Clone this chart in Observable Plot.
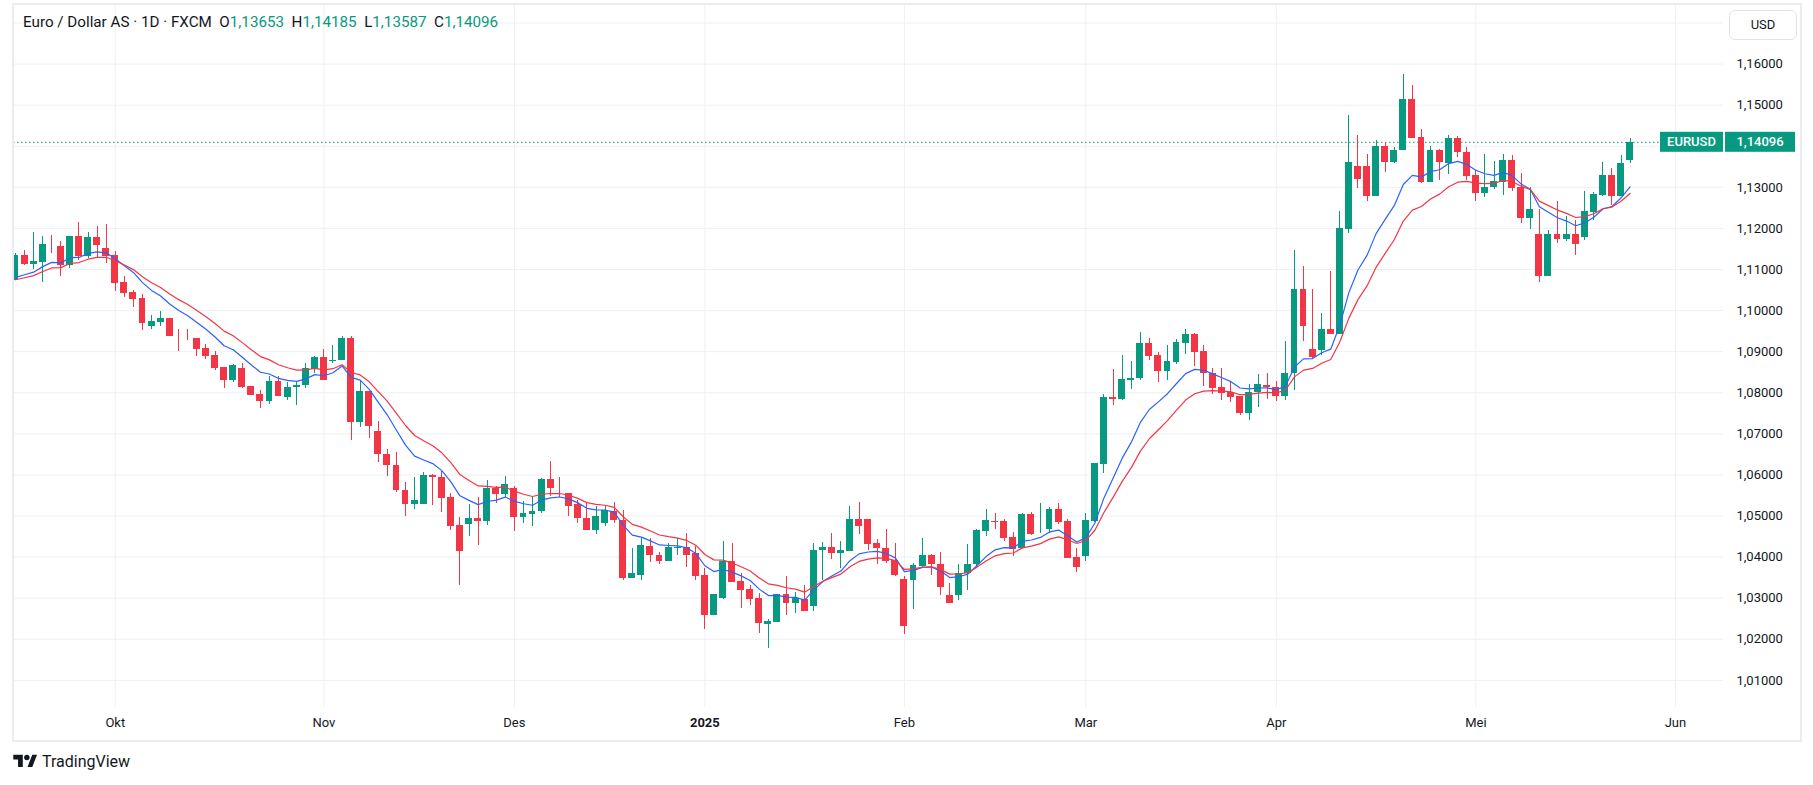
<!DOCTYPE html>
<html>
<head>
<meta charset="utf-8">
<script src="https://cdn.jsdelivr.net/npm/d3@7"></script>
<script src="https://cdn.jsdelivr.net/npm/@observablehq/plot@0.6"></script>
<style>
  html, body { margin: 0; padding: 0; background: #ffffff; }
  body { font-family: Roboto, "Noto Sans", sans-serif; color: #131722; }
  #wrap { position: relative; width: 1813px; height: 785px; overflow: hidden; }
  #chart { position: absolute; left: 0; top: 0; }
  #frame { position: absolute; left: 12px; top: 3px; width: 1786px; height: 735px; border: 2px solid #e9ecf1; pointer-events: none; }
  #title { position: absolute; left: 23px; top: 13px; font-size: 15.2px; white-space: pre; color: #131722; }
  #title .v { color: #089981; }
  #usd { position: absolute; left: 1729px; top: 10px; width: 66px; height: 28px; border: 1px solid #e0e3eb; border-radius: 6px; font-size: 13px; line-height: 28px; text-align: center; color: #131722; background: #fff; }
  #logo { position: absolute; left: 13px; top: 752px; display: flex; align-items: center; gap: 4px; font-size: 16px; font-weight: 400; color: #131722; }
</style>
</head>
<body>
<div id="wrap">
  <div id="chart"></div>
  <div id="frame"></div>
  <div id="title"></div>
  <div id="usd">USD</div>
  <div id="logo">
    <svg width="25" height="19" viewBox="0 0 36 28"><path d="M14 22H7V11H0V4h14v18z" fill="#131722"/><circle cx="20" cy="8" r="4" fill="#131722"/><path d="M28 4h7l-7 18h-7l7-18z" fill="#131722"/></svg>
    <span>TradingView</span>
  </div>
</div>
<script>
// ---- Data (EURUSD daily, FXCM), 16 Sep 2024 .. 26 May 2025 ----
const symbol = "EURUSD";
const titleText = "Euro / Dollar AS · 1D · FXCM";

const open = [
  1.1073,1.1134,1.1113,1.1118,1.1161,1.1156,1.1110,1.1180,1.1132,1.1178,
  1.1151,1.1134,1.1068,1.1044,1.1029,1.0962,1.0972,1.0981,1.0939,1.0939,
  1.0932,1.0908,1.0891,1.0862,1.0830,1.0858,1.0815,1.0796,1.0779,1.0828,
  1.0789,1.0812,1.0817,1.0856,1.0885,1.0875,1.0878,1.0931,1.0727,1.0804,
  1.0706,1.0650,1.0623,1.0563,1.0528,1.0528,1.0599,1.0594,1.0544,1.0476,
  1.0479,1.0494,1.0486,1.0566,1.0552,1.0566,1.0496,1.0503,1.0510,1.0588,
  1.0555,1.0555,1.0527,1.0494,1.0466,1.0483,1.0512,1.0490,1.0349,1.0356,
  1.0427,1.0405,1.0390,1.0420,1.0424,1.0408,1.0356,1.0259,1.0300,1.0390,
  1.0340,1.0320,1.0300,1.0236,1.0242,1.0308,1.0287,1.0298,1.0279,1.0415,
  1.0424,1.0409,1.0413,1.0492,1.0492,1.0432,1.0422,1.0391,1.0345,1.0343,
  1.0377,1.0403,1.0383,1.0307,1.0307,1.0359,1.0381,1.0462,1.0487,1.0487,
  1.0447,1.0421,1.0503,1.0471,1.0468,1.0515,1.0486,1.0398,1.0402,1.0487,
  1.0625,1.0789,1.0784,1.0830,1.0834,1.0919,1.0890,1.0852,1.0874,1.0920,
  1.0943,1.0900,1.0846,1.0812,1.0800,1.0791,1.0750,1.0800,1.0817,1.0813,
  1.0791,1.0847,1.1051,1.0905,1.0904,1.0954,1.0941,1.1197,1.1350,1.1350,
  1.1277,1.1399,1.1360,1.1389,1.1513,1.1421,1.1311,1.1389,1.1359,1.1418,
  1.1386,1.1328,1.1285,1.1299,1.1312,1.1366,1.1299,1.1225,1.1185,1.1082,
  1.1185,1.1174,1.1185,1.1179,1.1239,1.1279,1.1328,1.1278,1.13653
];
const high = [
  1.1140,1.1146,1.1190,1.1180,1.1183,1.1168,1.1180,1.1214,1.1190,1.1205,
  1.1209,1.1144,1.1083,1.1049,1.1039,1.0988,1.0998,1.0981,1.0954,1.0954,
  1.0932,1.0918,1.0900,1.0862,1.0870,1.0872,1.0815,1.0806,1.0840,1.0840,
  1.0826,1.0826,1.0872,1.0889,1.0906,1.0916,1.0938,1.0938,1.0827,1.0804,
  1.0729,1.0662,1.0655,1.0582,1.0595,1.0606,1.0602,1.0608,1.0555,1.0497,
  1.0529,1.0546,1.0587,1.0573,1.0597,1.0571,1.0535,1.0544,1.0591,1.0632,
  1.0595,1.0555,1.0539,1.0533,1.0524,1.0526,1.0534,1.0514,1.0422,1.0448,
  1.0446,1.0411,1.0432,1.0445,1.0458,1.0425,1.0373,1.0310,1.0437,1.0434,
  1.0359,1.0330,1.0312,1.0249,1.0310,1.0354,1.0315,1.0331,1.0433,1.0435,
  1.0458,1.0439,1.0522,1.0534,1.0492,1.0443,1.0468,1.0434,1.0353,1.0385,
  1.0445,1.0406,1.0412,1.0337,1.0383,1.0430,1.0468,1.0515,1.0507,1.0491,
  1.0461,1.0505,1.0509,1.0530,1.0520,1.0530,1.0492,1.0420,1.0505,1.0629,
  1.0797,1.0856,1.0890,1.0875,1.0947,1.0933,1.0899,1.0914,1.0929,1.0955,
  1.0945,1.0916,1.0860,1.0858,1.0828,1.0791,1.0820,1.0844,1.0848,1.0828,
  1.0924,1.1146,1.1107,1.1051,1.0992,1.1096,1.1241,1.1474,1.1426,1.1379,
  1.1414,1.1410,1.1396,1.1574,1.1547,1.1440,1.1399,1.1391,1.1426,1.1423,
  1.1398,1.1340,1.1381,1.1364,1.1381,1.1378,1.1334,1.1299,1.1245,1.1195,
  1.1266,1.1229,1.1219,1.1290,1.1287,1.1361,1.1345,1.1377,1.14185
];
const low = [
  1.1073,1.1110,1.1099,1.1069,1.1138,1.1084,1.1103,1.1122,1.1128,1.1126,
  1.1115,1.1047,1.1033,1.1008,1.0952,1.0955,1.0962,1.0938,1.0901,1.0927,
  1.0889,1.0881,1.0854,1.0810,1.0826,1.0810,1.0793,1.0762,1.0772,1.0792,
  1.0781,1.0769,1.0811,1.0846,1.0831,1.0872,1.0878,1.0683,1.0715,1.0688,
  1.0630,1.0596,1.0557,1.0499,1.0517,1.0528,1.0525,1.0508,1.0464,1.0332,
  1.0450,1.0428,1.0477,1.0531,1.0546,1.0462,1.0481,1.0474,1.0507,1.0547,
  1.0546,1.0500,1.0481,1.0464,1.0454,1.0475,1.0482,1.0344,1.0349,1.0344,
  1.0386,1.0382,1.0390,1.0405,1.0374,1.0344,1.0223,1.0257,1.0297,1.0338,
  1.0274,1.0283,1.0213,1.0177,1.0241,1.0259,1.0263,1.0267,1.0267,1.0344,
  1.0393,1.0373,1.0413,1.0454,1.0415,1.0383,1.0385,1.0353,1.0211,1.0272,
  1.0373,1.0355,1.0306,1.0286,1.0294,1.0319,1.0375,1.0449,1.0468,1.0438,
  1.0402,1.0421,1.0452,1.0458,1.0458,1.0479,1.0397,1.0363,1.0389,1.0485,
  1.0604,1.0768,1.0781,1.0807,1.0831,1.0878,1.0825,1.0831,1.0870,1.0894,
  1.0864,1.0816,1.0797,1.0781,1.0777,1.0744,1.0732,1.0765,1.0783,1.0779,
  1.0781,1.0805,1.0924,1.0880,1.0890,1.0941,1.0941,1.1188,1.1298,1.1266,
  1.1277,1.1336,1.1358,1.1389,1.1418,1.1310,1.1311,1.1316,1.1331,1.1373,
  1.1316,1.1266,1.1275,1.1294,1.1280,1.1291,1.1213,1.1198,1.1068,1.1082,
  1.1164,1.1169,1.1133,1.1171,1.1219,1.1278,1.1255,1.1278,1.13587
];
const close = [
  1.1134,1.1112,1.1119,1.1161,1.1159,1.1110,1.1180,1.1132,1.1178,1.1158,
  1.1132,1.1067,1.1042,1.1028,1.0969,1.0973,1.0981,1.0938,1.0937,1.0937,
  1.0906,1.0888,1.0860,1.0830,1.0866,1.0813,1.0793,1.0779,1.0828,1.0792,
  1.0812,1.0818,1.0858,1.0885,1.0831,1.0878,1.0931,1.0727,1.0804,1.0718,
  1.0649,1.0623,1.0561,1.0528,1.0538,1.0599,1.0593,1.0542,1.0474,1.0413,
  1.0494,1.0486,1.0566,1.0552,1.0576,1.0496,1.0505,1.0512,1.0588,1.0567,
  1.0554,1.0524,1.0493,1.0466,1.0500,1.0513,1.0488,1.0349,1.0359,1.0429,
  1.0403,1.0390,1.0423,1.0423,1.0405,1.0354,1.0259,1.0308,1.0390,1.0338,
  1.0318,1.0298,1.0238,1.0244,1.0308,1.0287,1.0300,1.0267,1.0417,1.0424,
  1.0408,1.0415,1.0492,1.0474,1.0431,1.0420,1.0389,1.0355,1.0231,1.0379,
  1.0403,1.0381,1.0326,1.0287,1.0361,1.0383,1.0464,1.0488,1.0484,1.0445,
  1.0419,1.0503,1.0454,1.0473,1.0515,1.0484,1.0397,1.0375,1.0488,1.0627,
  1.0789,1.0784,1.0833,1.0835,1.0919,1.0888,1.0852,1.0877,1.0922,1.0943,
  1.0898,1.0846,1.0811,1.0799,1.0789,1.0750,1.0800,1.0821,1.0812,1.0791,
  1.0848,1.1051,1.0962,1.0886,1.0954,1.0941,1.1199,1.1360,1.1319,1.1277,
  1.1399,1.1360,1.1389,1.1513,1.1418,1.1311,1.1389,1.1361,1.1418,1.1385,
  1.1326,1.1285,1.1299,1.1313,1.1366,1.1297,1.1225,1.1245,1.1082,1.1185,
  1.1174,1.1185,1.1161,1.1241,1.1282,1.1328,1.1278,1.1357,1.14096
];

// EMA indicators (periods) and their values at the first visible bar
const emaPeriods = [9, 14];
const emaFirst = [1.1081, 1.1075];
const emaColors = ["#2962FF", "#F23645"];

// time axis: bar index of the first trading day of each month, and its label
const monthIdx = [12, 35, 56, 77, 99, 119, 140, 162, 184];
const monthLabels = ["Okt", "Nov", "Des", "2025", "Feb", "Mar", "Apr", "Mei", "Jun"];
const boldLabels = ["2025"];

// price axis
const gridTicks = [1.01, 1.02, 1.03, 1.04, 1.05, 1.06, 1.07, 1.08, 1.09, 1.10, 1.11, 1.12, 1.13, 1.14, 1.15, 1.16, 1.17];
const labelTicks = [1.01, 1.02, 1.03, 1.04, 1.05, 1.06, 1.07, 1.08, 1.09, 1.10, 1.11, 1.12, 1.13, 1.15, 1.16];

// visible ranges
const xDomain = [0.78, 189.3];
const yDomain = [1.0034, 1.1745];

// ---- build ----
const UP = "#089981", DOWN = "#F23645", GRID = "#eef0f3";
const fmt = v => v.toFixed(5).replace(".", ",");
const bars = open.map((o, k) => ({i: k + 1, o, h: high[k], l: low[k], c: close[k]}));
const col = d => d.c >= d.o ? UP : DOWN;
const last = bars[bars.length - 1];

const ema = (n, first) => (V) => {
  const a = 2 / (n + 1);
  const out = [];
  let v;
  V.forEach((c, k) => { v = k === 0 ? first : v + a * (c - v); out.push(v); });
  return out;
};

const monthFmt = i => monthLabels[monthIdx.indexOf(i)];

const chart = Plot.plot({
  width: 1813,
  height: 745,
  marginLeft: 13,
  marginRight: 90,
  marginTop: 4,
  marginBottom: 38,
  x: {type: "linear", domain: xDomain, axis: null, label: null},
  y: {type: "linear", domain: yDomain, axis: null, label: null},
  color: {type: "identity"},
  style: {fontFamily: "Roboto, 'Noto Sans', sans-serif", fontSize: "13px", color: "#131722", background: "transparent", overflow: "visible"},
  marks: [
    Plot.gridY(gridTicks, {stroke: GRID, strokeOpacity: 1}),
    Plot.gridX(monthIdx, {stroke: GRID, strokeOpacity: 1}),
    Plot.ruleY([last.c], {stroke: UP, strokeDasharray: "1.5,2.5", strokeWidth: 1}),
    Plot.ruleX(bars, {x: "i", y1: "l", y2: "h", stroke: col, strokeWidth: 1, clip: true, shapeRendering: "crispEdges"}),
    Plot.rect(bars, {x1: d => d.i - 0.38, x2: d => d.i + 0.38, y1: "o", y2: "c", fill: col, stroke: col, strokeWidth: 1, inset: 0.5, clip: true, shapeRendering: "crispEdges"}),
    ...emaPeriods.map((n, j) => Plot.lineY(bars, Plot.mapY(ema(n, emaFirst[j]), {x: "i", y: "c", stroke: emaColors[j], strokeWidth: 1.2, clip: true}))),
    Plot.axisY(labelTicks, {anchor: "right", tickSize: 0, tickPadding: 13, tickFormat: fmt, fontSize: 13, fill: "#131722", label: null}),
    Plot.axisX(monthIdx.filter(i => !boldLabels.includes(monthFmt(i))), {anchor: "bottom", tickSize: 0, tickPadding: 10, tickFormat: monthFmt, fontSize: 13, fill: "#131722", label: null}),
    Plot.axisX(monthIdx.filter(i => boldLabels.includes(monthFmt(i))), {anchor: "bottom", tickSize: 0, tickPadding: 10, tickFormat: monthFmt, fontSize: 13, fontWeight: "bold", fill: "#131722", label: null})
  ]
});
document.getElementById("chart").appendChild(chart);

// last-price label on the price scale
const yS = chart.scale("y"), xS = chart.scale("x");
const yLast = yS.apply(last.c);
const paneRight = xS.range[1];
const g = d3.select(chart).append("g").attr("font-family", "Roboto, 'Noto Sans', sans-serif").attr("font-size", 13);
g.append("rect").attr("x", paneRight - 63).attr("y", yLast - 10).attr("width", 63).attr("height", 20).attr("fill", UP);
g.append("rect").attr("x", paneRight + 2).attr("y", yLast - 10).attr("width", 70).attr("height", 20).attr("fill", UP);
g.append("text").attr("x", paneRight - 31.5).attr("y", yLast).attr("dy", "0.35em").attr("text-anchor", "middle").attr("fill", "#fff").attr("font-weight", 500).text(symbol);
g.append("text").attr("x", paneRight + 37).attr("y", yLast).attr("dy", "0.35em").attr("text-anchor", "middle").attr("fill", "#fff").attr("font-weight", 500).text(fmt(last.c));

// legend/title line
const t = document.getElementById("title");
t.innerHTML = `${titleText}  O<span class="v">${fmt(last.o)}</span>  H<span class="v">${fmt(last.h)}</span>  L<span class="v">${fmt(last.l)}</span>  C<span class="v">${fmt(last.c)}</span>`;
</script>
</body>
</html>
